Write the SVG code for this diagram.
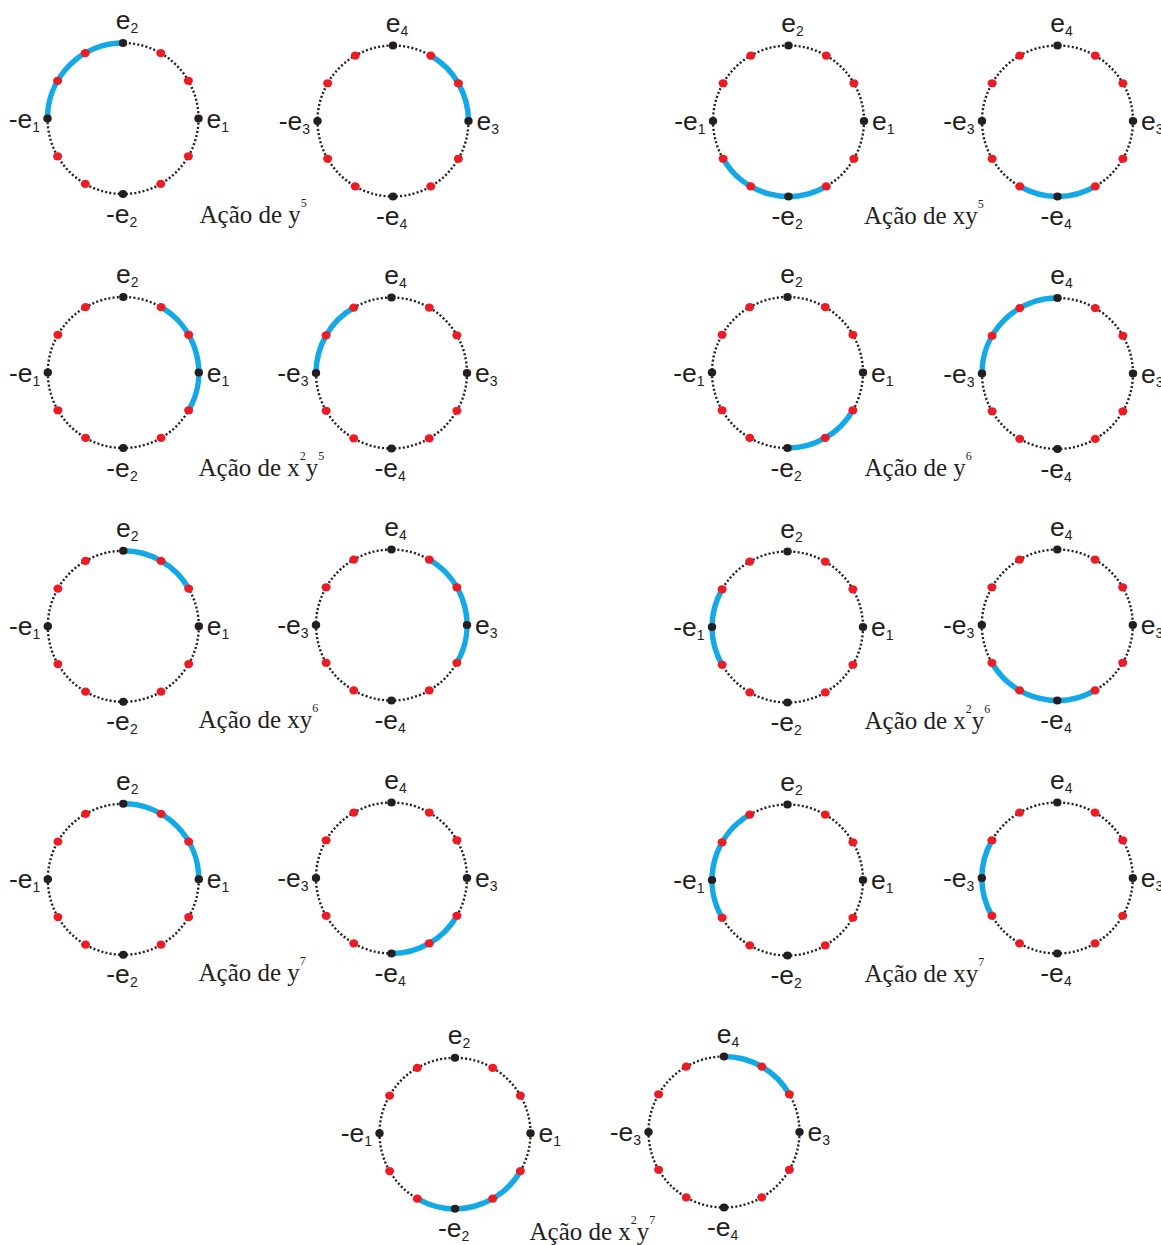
<svg xmlns="http://www.w3.org/2000/svg" xmlns:xlink="http://www.w3.org/1999/xlink" width="1161" height="1245" viewBox="0 0 1161 1245">
<style>
.ring{fill:none;stroke:#231F20;stroke-width:2.4;stroke-dasharray:2 2.2}
.arc{fill:none;stroke:#13A8E6;stroke-width:5.5}
.bd{fill:#231F20}
.rd{fill:#ED1C24}
.lb{font-family:"Liberation Sans",Arial,sans-serif;font-size:26.5px;fill:#231F20}
.sb{font-size:14px}
.cap{font-family:"Liberation Serif","Times New Roman",serif;font-size:25px;fill:#231F20}
.sp{font-size:12px}
</style>
<defs>
<circle id="ring" class="ring" cx="0" cy="0" r="75.5"/>
<g id="dots">
<ellipse class="rd" cx="65.38" cy="-37.75" rx="4.5" ry="4.1"/>
<ellipse class="rd" cx="37.75" cy="-65.38" rx="4.5" ry="4.1"/>
<ellipse class="rd" cx="-37.75" cy="-65.38" rx="4.5" ry="4.1"/>
<ellipse class="rd" cx="-65.38" cy="-37.75" rx="4.5" ry="4.1"/>
<ellipse class="rd" cx="-65.38" cy="37.75" rx="4.5" ry="4.1"/>
<ellipse class="rd" cx="-37.75" cy="65.38" rx="4.5" ry="4.1"/>
<ellipse class="rd" cx="37.75" cy="65.38" rx="4.5" ry="4.1"/>
<ellipse class="rd" cx="65.38" cy="37.75" rx="4.5" ry="4.1"/>
<ellipse class="bd" cx="75.5" cy="0" rx="4.2" ry="4"/>
<ellipse class="bd" cx="0" cy="-75.5" rx="4.2" ry="4"/>
<ellipse class="bd" cx="-75.5" cy="0" rx="4.2" ry="4"/>
<ellipse class="bd" cx="0" cy="75.5" rx="4.2" ry="4"/>
</g>
</defs>

<!-- Pair 1: y^5 -->
<g id="p1-left" transform="translate(123,118.5)">
<use xlink:href="#ring"/>
<path class="arc" d="M0,-75.5 A75.5,75.5 0 0 0 -75.5,0"/>
<use xlink:href="#dots"/>
<text class="lb" x="-7.2" y="-89.5">e<tspan class="sb" dy="4">2</tspan></text>
<text class="lb" x="-17" y="104">-e<tspan class="sb" dy="4">2</tspan></text>
<text class="lb" x="-83" y="9" text-anchor="end">-e<tspan class="sb" dy="4">1</tspan></text>
<text class="lb" x="83.5" y="9">e<tspan class="sb" dy="4">1</tspan></text>
</g>
<g id="p1-right" transform="translate(393,121)">
<use xlink:href="#ring"/>
<path class="arc" d="M75.5,0 A75.5,75.5 0 0 0 37.75,-65.38"/>
<use xlink:href="#dots"/>
<text class="lb" x="-7.2" y="-89.5">e<tspan class="sb" dy="4">4</tspan></text>
<text class="lb" x="-17" y="104">-e<tspan class="sb" dy="4">4</tspan></text>
<text class="lb" x="-83" y="9" text-anchor="end">-e<tspan class="sb" dy="4">3</tspan></text>
<text class="lb" x="83.5" y="9">e<tspan class="sb" dy="4">3</tspan></text>
</g>
<text id="cap1" class="cap" x="199.5" y="223">Ação de y<tspan class="sp" dy="-16">5</tspan></text>

<!-- Pair 2: xy^5 -->
<g id="p2-left" transform="translate(788.5,121)">
<use xlink:href="#ring"/>
<path class="arc" d="M-65.38,37.75 A75.5,75.5 0 0 0 37.75,65.38"/>
<use xlink:href="#dots"/>
<text class="lb" x="-7.2" y="-89.5">e<tspan class="sb" dy="4">2</tspan></text>
<text class="lb" x="-17" y="104">-e<tspan class="sb" dy="4">2</tspan></text>
<text class="lb" x="-83" y="9" text-anchor="end">-e<tspan class="sb" dy="4">1</tspan></text>
<text class="lb" x="83.5" y="9">e<tspan class="sb" dy="4">1</tspan></text>
</g>
<g id="p2-right" transform="translate(1057.5,121)">
<use xlink:href="#ring"/>
<path class="arc" d="M-37.75,65.38 A75.5,75.5 0 0 0 37.75,65.38"/>
<use xlink:href="#dots"/>
<text class="lb" x="-7.2" y="-89.5">e<tspan class="sb" dy="4">4</tspan></text>
<text class="lb" x="-17" y="104">-e<tspan class="sb" dy="4">4</tspan></text>
<text class="lb" x="-83" y="9" text-anchor="end">-e<tspan class="sb" dy="4">3</tspan></text>
<text class="lb" x="83.5" y="9">e<tspan class="sb" dy="4">3</tspan></text>
</g>
<text id="cap2" class="cap" x="864" y="224">Ação de xy<tspan class="sp" dy="-16">5</tspan></text>

<!-- Pair 3: x^2y^5 -->
<g id="p3-left" transform="translate(123.3,372.5)">
<use xlink:href="#ring"/>
<path class="arc" d="M65.38,37.75 A75.5,75.5 0 0 0 37.75,-65.38"/>
<use xlink:href="#dots"/>
<text class="lb" x="-7.2" y="-89.5">e<tspan class="sb" dy="4">2</tspan></text>
<text class="lb" x="-17" y="104">-e<tspan class="sb" dy="4">2</tspan></text>
<text class="lb" x="-83" y="9" text-anchor="end">-e<tspan class="sb" dy="4">1</tspan></text>
<text class="lb" x="83.5" y="9">e<tspan class="sb" dy="4">1</tspan></text>
</g>
<g id="p3-right" transform="translate(391.5,373)">
<use xlink:href="#ring"/>
<path class="arc" d="M-37.75,-65.38 A75.5,75.5 0 0 0 -75.5,0"/>
<use xlink:href="#dots"/>
<text class="lb" x="-7.2" y="-89.5">e<tspan class="sb" dy="4">4</tspan></text>
<text class="lb" x="-17" y="104">-e<tspan class="sb" dy="4">4</tspan></text>
<text class="lb" x="-83" y="9" text-anchor="end">-e<tspan class="sb" dy="4">3</tspan></text>
<text class="lb" x="83.5" y="9">e<tspan class="sb" dy="4">3</tspan></text>
</g>
<text id="cap3" class="cap" x="198.5" y="476">Ação de x<tspan class="sp" dy="-16">2</tspan><tspan dy="16">y</tspan><tspan class="sp" dy="-16">5</tspan></text>

<!-- Pair 4: y^6 -->
<g id="p4-left" transform="translate(787.5,372.5)">
<use xlink:href="#ring"/>
<path class="arc" d="M0,75.5 A75.5,75.5 0 0 0 65.38,37.75"/>
<use xlink:href="#dots"/>
<text class="lb" x="-7.2" y="-89.5">e<tspan class="sb" dy="4">2</tspan></text>
<text class="lb" x="-17" y="104">-e<tspan class="sb" dy="4">2</tspan></text>
<text class="lb" x="-83" y="9" text-anchor="end">-e<tspan class="sb" dy="4">1</tspan></text>
<text class="lb" x="83.5" y="9">e<tspan class="sb" dy="4">1</tspan></text>
</g>
<g id="p4-right" transform="translate(1057.5,373.5)">
<use xlink:href="#ring"/>
<path class="arc" d="M0,-75.5 A75.5,75.5 0 0 0 -75.5,0"/>
<use xlink:href="#dots"/>
<text class="lb" x="-7.2" y="-89.5">e<tspan class="sb" dy="4">4</tspan></text>
<text class="lb" x="-17" y="104">-e<tspan class="sb" dy="4">4</tspan></text>
<text class="lb" x="-83" y="9" text-anchor="end">-e<tspan class="sb" dy="4">3</tspan></text>
<text class="lb" x="83.5" y="9">e<tspan class="sb" dy="4">3</tspan></text>
</g>
<text id="cap4" class="cap" x="864.5" y="476">Ação de y<tspan class="sp" dy="-16">6</tspan></text>

<!-- Pair 5: xy^6 -->
<g id="p5-left" transform="translate(123.3,626.3)">
<use xlink:href="#ring"/>
<path class="arc" d="M65.38,-37.75 A75.5,75.5 0 0 0 0,-75.5"/>
<use xlink:href="#dots"/>
<text class="lb" x="-7.2" y="-89.5">e<tspan class="sb" dy="4">2</tspan></text>
<text class="lb" x="-17" y="104">-e<tspan class="sb" dy="4">2</tspan></text>
<text class="lb" x="-83" y="9" text-anchor="end">-e<tspan class="sb" dy="4">1</tspan></text>
<text class="lb" x="83.5" y="9">e<tspan class="sb" dy="4">1</tspan></text>
</g>
<g id="p5-right" transform="translate(391.5,625)">
<use xlink:href="#ring"/>
<path class="arc" d="M65.38,37.75 A75.5,75.5 0 0 0 37.75,-65.38"/>
<use xlink:href="#dots"/>
<text class="lb" x="-7.2" y="-89.5">e<tspan class="sb" dy="4">4</tspan></text>
<text class="lb" x="-17" y="104">-e<tspan class="sb" dy="4">4</tspan></text>
<text class="lb" x="-83" y="9" text-anchor="end">-e<tspan class="sb" dy="4">3</tspan></text>
<text class="lb" x="83.5" y="9">e<tspan class="sb" dy="4">3</tspan></text>
</g>
<text id="cap5" class="cap" x="198.5" y="728">Ação de xy<tspan class="sp" dy="-16">6</tspan></text>

<!-- Pair 6: x^2y^6 -->
<g id="p6-left" transform="translate(787.5,627)">
<use xlink:href="#ring"/>
<path class="arc" d="M-65.38,-37.75 A75.5,75.5 0 0 0 -65.38,37.75"/>
<use xlink:href="#dots"/>
<text class="lb" x="-7.2" y="-89.5">e<tspan class="sb" dy="4">2</tspan></text>
<text class="lb" x="-17" y="104">-e<tspan class="sb" dy="4">2</tspan></text>
<text class="lb" x="-83" y="9" text-anchor="end">-e<tspan class="sb" dy="4">1</tspan></text>
<text class="lb" x="83.5" y="9">e<tspan class="sb" dy="4">1</tspan></text>
</g>
<g id="p6-right" transform="translate(1057.3,625)">
<use xlink:href="#ring"/>
<path class="arc" d="M-65.38,37.75 A75.5,75.5 0 0 0 37.75,65.38"/>
<use xlink:href="#dots"/>
<text class="lb" x="-7.2" y="-89.5">e<tspan class="sb" dy="4">4</tspan></text>
<text class="lb" x="-17" y="104">-e<tspan class="sb" dy="4">4</tspan></text>
<text class="lb" x="-83" y="9" text-anchor="end">-e<tspan class="sb" dy="4">3</tspan></text>
<text class="lb" x="83.5" y="9">e<tspan class="sb" dy="4">3</tspan></text>
</g>
<text id="cap6" class="cap" x="864.5" y="729">Ação de x<tspan class="sp" dy="-16">2</tspan><tspan dy="16">y</tspan><tspan class="sp" dy="-16">6</tspan></text>

<!-- Pair 7: y^7 -->
<g id="p7-left" transform="translate(123.3,879.3)">
<use xlink:href="#ring"/>
<path class="arc" d="M75.5,0 A75.5,75.5 0 0 0 0,-75.5"/>
<use xlink:href="#dots"/>
<text class="lb" x="-7.2" y="-89.5">e<tspan class="sb" dy="4">2</tspan></text>
<text class="lb" x="-17" y="104">-e<tspan class="sb" dy="4">2</tspan></text>
<text class="lb" x="-83" y="9" text-anchor="end">-e<tspan class="sb" dy="4">1</tspan></text>
<text class="lb" x="83.5" y="9">e<tspan class="sb" dy="4">1</tspan></text>
</g>
<g id="p7-right" transform="translate(391.5,878)">
<use xlink:href="#ring"/>
<path class="arc" d="M0,75.5 A75.5,75.5 0 0 0 65.38,37.75"/>
<use xlink:href="#dots"/>
<text class="lb" x="-7.2" y="-89.5">e<tspan class="sb" dy="4">4</tspan></text>
<text class="lb" x="-17" y="104">-e<tspan class="sb" dy="4">4</tspan></text>
<text class="lb" x="-83" y="9" text-anchor="end">-e<tspan class="sb" dy="4">3</tspan></text>
<text class="lb" x="83.5" y="9">e<tspan class="sb" dy="4">3</tspan></text>
</g>
<text id="cap7" class="cap" x="198.5" y="981">Ação de y<tspan class="sp" dy="-16">7</tspan></text>

<!-- Pair 8: xy^7 -->
<g id="p8-left" transform="translate(787.5,880)">
<use xlink:href="#ring"/>
<path class="arc" d="M-37.75,-65.38 A75.5,75.5 0 0 0 -65.38,37.75"/>
<use xlink:href="#dots"/>
<text class="lb" x="-7.2" y="-89.5">e<tspan class="sb" dy="4">2</tspan></text>
<text class="lb" x="-17" y="104">-e<tspan class="sb" dy="4">2</tspan></text>
<text class="lb" x="-83" y="9" text-anchor="end">-e<tspan class="sb" dy="4">1</tspan></text>
<text class="lb" x="83.5" y="9">e<tspan class="sb" dy="4">1</tspan></text>
</g>
<g id="p8-right" transform="translate(1057.3,878)">
<use xlink:href="#ring"/>
<path class="arc" d="M-65.38,-37.75 A75.5,75.5 0 0 0 -65.38,37.75"/>
<use xlink:href="#dots"/>
<text class="lb" x="-7.2" y="-89.5">e<tspan class="sb" dy="4">4</tspan></text>
<text class="lb" x="-17" y="104">-e<tspan class="sb" dy="4">4</tspan></text>
<text class="lb" x="-83" y="9" text-anchor="end">-e<tspan class="sb" dy="4">3</tspan></text>
<text class="lb" x="83.5" y="9">e<tspan class="sb" dy="4">3</tspan></text>
</g>
<text id="cap8" class="cap" x="864.5" y="982">Ação de xy<tspan class="sp" dy="-16">7</tspan></text>

<!-- Pair 9: x^2y^7 -->
<g id="p9-left" transform="translate(455,1133.3)">
<use xlink:href="#ring"/>
<path class="arc" d="M-37.75,65.38 A75.5,75.5 0 0 0 65.38,37.75"/>
<use xlink:href="#dots"/>
<text class="lb" x="-7.2" y="-89.5">e<tspan class="sb" dy="4">2</tspan></text>
<text class="lb" x="-17" y="104">-e<tspan class="sb" dy="4">2</tspan></text>
<text class="lb" x="-83" y="9" text-anchor="end">-e<tspan class="sb" dy="4">1</tspan></text>
<text class="lb" x="83.5" y="9">e<tspan class="sb" dy="4">1</tspan></text>
</g>
<g id="p9-right" transform="translate(724,1132)">
<use xlink:href="#ring"/>
<path class="arc" d="M65.38,-37.75 A75.5,75.5 0 0 0 0,-75.5"/>
<use xlink:href="#dots"/>
<text class="lb" x="-7.2" y="-89.5">e<tspan class="sb" dy="4">4</tspan></text>
<text class="lb" x="-17" y="104">-e<tspan class="sb" dy="4">4</tspan></text>
<text class="lb" x="-83" y="9" text-anchor="end">-e<tspan class="sb" dy="4">3</tspan></text>
<text class="lb" x="83.5" y="9">e<tspan class="sb" dy="4">3</tspan></text>
</g>
<text id="cap9" class="cap" x="529.5" y="1240">Ação de x<tspan class="sp" dy="-16">2</tspan><tspan dy="16">y</tspan><tspan class="sp" dy="-16">7</tspan></text>
</svg>
